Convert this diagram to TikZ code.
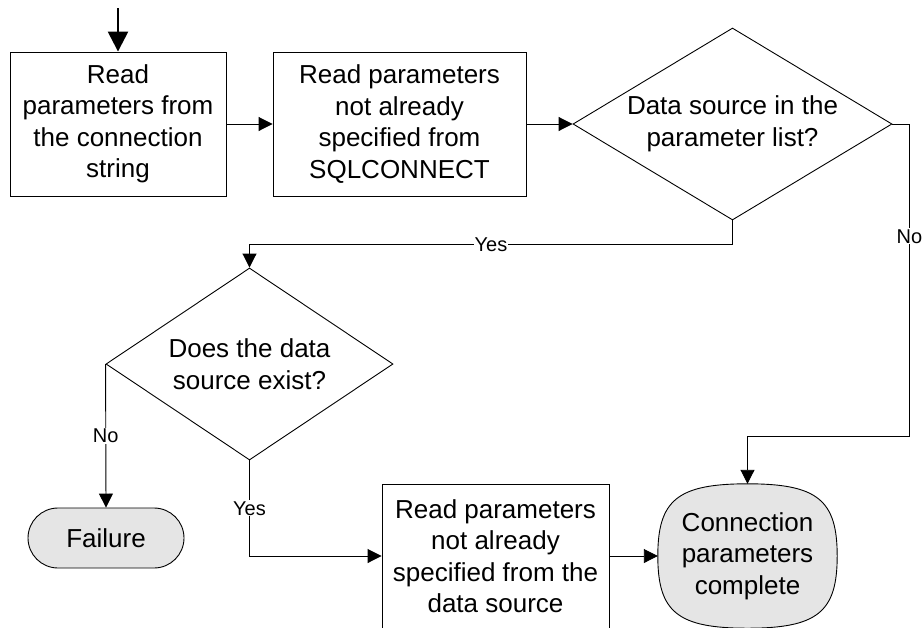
\documentclass[tikz,border=0pt]{standalone}
\usepackage{fontspec}
\setmainfont{Liberation Sans}
\usetikzlibrary{arrows.meta,shapes.geometric}

\newcommand\flowfont{\fontsize{26}{31.5}\selectfont}
\newcommand\tagfont{\fontsize{20}{24}\selectfont}

\tikzset{
  procbox/.style={draw, line width=0.9pt, minimum width=#1, minimum height=144pt,
    inner sep=0pt, align=center, font=\flowfont},
  decision/.style 2 args={diamond, draw, line width=0.9pt, minimum width=#1,
    minimum height=#2, inner sep=0pt},
  qtext/.style={align=center, font=\flowfont, inner sep=0pt},
  flow/.style={line width=0.9pt, -{Triangle[length=14pt,width=14pt]}},
  entry/.style={line width=2.5pt, -{Triangle[length=20pt,width=20pt]}},
  tag/.style={fill=white, inner sep=1pt, font=\tagfont},
  terminal/.style={draw, line width=0.9pt, fill=gray!20},
}

\begin{document}
\begin{tikzpicture}[x=1pt,y=-1pt]
\useasboundingbox (0,0) rectangle (923,627);

% process boxes
\node[procbox=216pt] (read1) at (118,124) {Read\\parameters from\\the connection\\string};
\node[procbox=253pt] (read2) at (399.5,124) {Read parameters\\not already\\specified from\\SQLCONNECT};
\node[procbox=227pt] (read3) at (495.5,556) {Read parameters\\not already\\specified from the\\data source};

% decisions
\node[decision={319pt}{192pt}] (inlist) at (732.5,124) {};
\node[qtext] at (inlist) {Data source in the\\parameter list?};
\node[decision={287pt}{192pt}] (exists) at (249.5,364) {};
\node[qtext] at (exists) {Does the data\\source exist?};

% terminals
\node[terminal, rounded corners=30pt, minimum width=156pt, minimum height=60pt,
      inner sep=0pt, font=\flowfont] (fail) at (106,538) {Failure};

\node[minimum width=179pt, minimum height=144pt, inner sep=0pt] (done) at (747.5,556) {};
\draw[terminal] (done.north) .. controls +(70,0) and +(0,-56) .. (done.east)
  .. controls +(0,56) and +(70,0) .. (done.south)
  .. controls +(-70,0) and +(0,56) .. (done.west)
  .. controls +(0,-56) and +(-70,0) .. (done.north) -- cycle;
\node[qtext] at (done) {Connection\\parameters\\complete};

% connectors
\coordinate (start) at (118,8);
\draw[entry] (start) -- (read1.north);
\draw[flow] (read1.east) -- (read2.west);
\draw[flow] (read2.east) -- (inlist.west);
\draw[flow] (inlist.south) -- ++(0,24) -| node[tag, pos=0.25] {Yes} (exists.north);
\draw[flow] (inlist.east) -- ++(17,0) coordinate (noturn)
  -- (noturn |- 0,436) node[tag, pos=0.36] {No} -| (done.north);
\draw[flow] (exists.west) -- node[tag, pos=0.5] {No} (fail.north);
\draw[flow] (exists.south) |- node[tag, pos=0.25] {Yes} (read3.west);
\draw[flow] (read3.east) -- (done.west);
\end{tikzpicture}
\end{document}
